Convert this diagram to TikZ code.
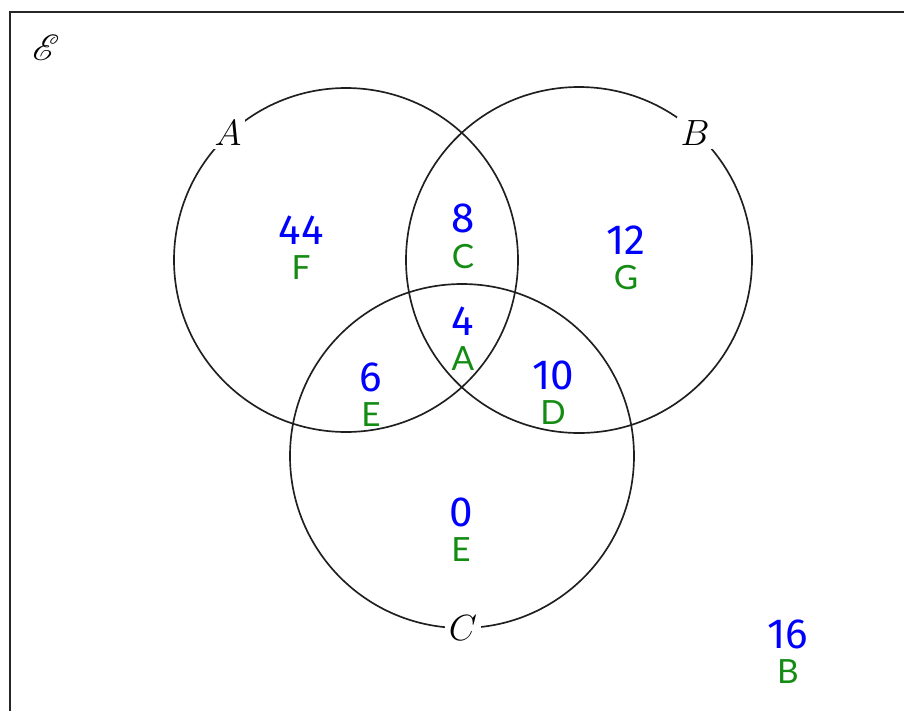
\documentclass[tikz,border=0pt]{standalone}
\usepackage{fontspec}
\usepackage{amsmath}
\usepackage{mathrsfs}
\usepackage{xcolor}
\usepackage{tikz}
\usetikzlibrary{positioning}
\newfontfamily\countfont{Fira Sans}
\newfontfamily\tagfont{Lato}
\definecolor{countblue}{RGB}{0,0,255}
\definecolor{taggreen}{RGB}{20,140,20}

\begin{document}
\begin{tikzpicture}[x=0.02cm, y=-0.02cm,
  setline/.style={line width=0.95pt, black!88},
  countnum/.style={font=\countfont\fontsize{24}{26}\selectfont, text=countblue, inner sep=1pt},
  regtag/.style={font=\tagfont\fontsize{19}{21}\selectfont, text=taggreen, inner sep=1pt},
  setname/.style={font=\fontsize{20}{22}\selectfont, fill=white, inner sep=2pt}]
\useasboundingbox (0,0) rectangle (904,711);
\clip (0,0) rectangle (904,711);
% universal set
\draw[line width=1.1pt, black!85] (10,760) -- (10,12) -- (960,12);
\node (univ) at (46,48) {\fontsize{20}{22}\selectfont$\mathscr{E}$};
% the three sets
\draw[setline] (346,260) circle (172);
\draw[setline] (579,260) circle (173);
\draw[setline] (462,456) circle (172);
\node[setname] (setA) at (228,133) {$A$};
\node[setname] (setB) at (695,133) {$B$};
\node[setname] (setC) at (463,628) {$C$};
% counts and region tags
\foreach \n/\num/\tag/\x/\y in {f/44/F/301/230, c/8/C/463/218, g/12/G/626/240,
    a/4/A/463/321, e/6/E/371/377, d/10/D/553/375, ee/0/E/461/512, b/16/B/788/634} {
  \node[countnum] (num\n) at (\x,\y) {\num};
  \node[regtag, below=4pt of num\n] (tag\n) {\tag};
}
\end{tikzpicture}
\end{document}
